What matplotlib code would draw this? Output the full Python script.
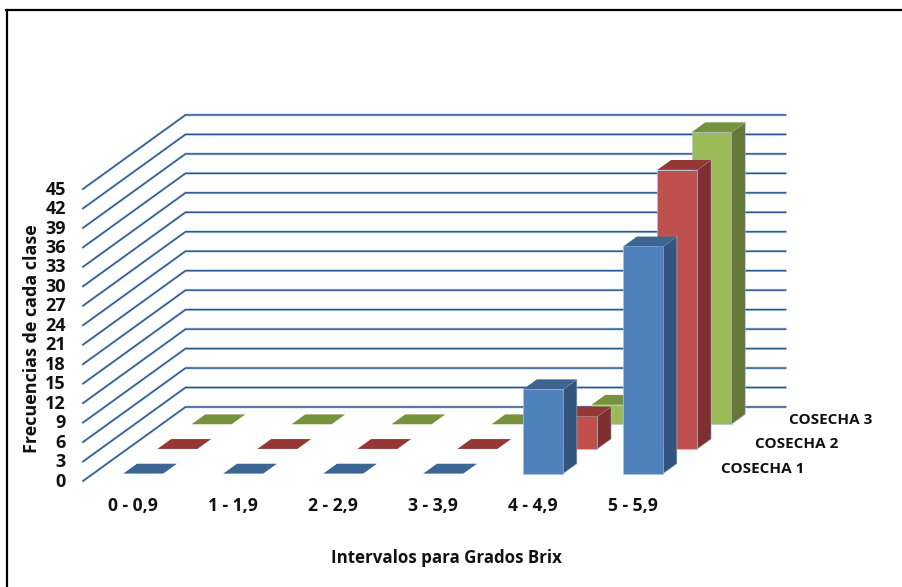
import matplotlib
matplotlib.use('Agg')
import matplotlib.pyplot as plt
from matplotlib.patches import Polygon

categories = ['0 - 0,9', '1 - 1,9', '2 - 2,9', '3 - 3,9', '4 - 4,9', '5 - 5,9']
series_names = ['COSECHA 1', 'COSECHA 2', 'COSECHA 3']
cosecha_1 = [0, 0, 0, 0, 13, 35]
cosecha_2 = [0, 0, 0, 0, 5, 43]
cosecha_3 = [0, 0, 0, 0, 3, 45]
y_ticks = list(range(0, 48, 3))

W, H = 902, 587
PX_CAT = 100.0  # pixels per category
PX_VAL = 6.49  # pixels per count
X0, Y0 = 83.0, 481.0  # front corner of the floor
DEPTH_X = 34.17 / PX_CAT  # shift per series slot, in data units
DEPTH_Y = 24.67 / PX_VAL
BAR_W = 0.4
BAR_D = 0.4
FONT = 'Open Sans'

colors = [('#4F81BD', '#3D6594', '#33547C'),
          ('#C0504D', '#953735', '#7F302E'),
          ('#9BBB59', '#76923C', '#66783A')]


def proj(x, d, v):
    return x + d * DEPTH_X, v + d * DEPTH_Y


def draw_bar(ax, cat, slot, value, cols):
    x0 = cat + (1 - BAR_W) / 2
    x1 = x0 + BAR_W
    d0 = slot + (1 - BAR_D) / 2
    d1 = d0 + BAR_D
    front, top, side = cols
    if value > 0:
        ax.add_patch(Polygon([proj(x0, d0, 0), proj(x1, d0, 0), proj(x1, d0, value), proj(x0, d0, value)],
                             fc=front, ec='#A9C4E4', lw=0.5, zorder=3))
        ax.add_patch(Polygon([proj(x1, d0, 0), proj(x1, d1, 0), proj(x1, d1, value), proj(x1, d0, value)],
                             fc=side, ec='#A9C4E4', lw=0.4, zorder=3))
    ax.add_patch(Polygon([proj(x0, d0, value), proj(x1, d0, value), proj(x1, d1, value), proj(x0, d1, value)],
                         fc=top, ec='none', zorder=3))


fig = plt.figure(figsize=(W / 100, H / 100), dpi=100)
ax = fig.add_axes([0, 0, 1, 1])
ax.set_xlim(-X0 / PX_CAT, (W - X0) / PX_CAT)
ax.set_ylim((Y0 - H) / PX_VAL, Y0 / PX_VAL)
ax.axis('off')

# walls
n_cat = len(categories)
n_ser = len(series_names)
for t in y_ticks:
    xs = [proj(0, 0, t)[0], proj(0, n_ser, t)[0], proj(n_cat, n_ser, t)[0]]
    ys = [proj(0, 0, t)[1], proj(0, n_ser, t)[1], proj(n_cat, n_ser, t)[1]]
    ax.plot(xs, ys, color='#C5D3E6', lw=2.0, solid_joinstyle='miter', zorder=1)
    ax.plot(xs, ys, color='#24548C', lw=1.0, solid_joinstyle='miter', zorder=2)
    ax.text(-0.17, t - 0.1, str(t), ha='right', va='center', family=FONT,
            fontsize=13, fontweight='bold', color='#111111')

# bars back to front
all_series = [cosecha_1, cosecha_2, cosecha_3]
for slot in range(n_ser - 1, -1, -1):
    for cat, value in enumerate(all_series[slot]):
        draw_bar(ax, cat, slot, value, colors[slot])
    x, y = proj(6.38, slot, 1.85)
    ax.text(x, y, series_names[slot], ha='left', va='center', family=FONT,
            fontsize=11, fontweight='bold', color='#111111')

for i, name in enumerate(categories):
    ax.text(i + 0.5, -3.85, name, ha='center', va='center', family=FONT,
            fontsize=12.6, fontweight='bold', color='#111111')

ax.text(3.63, -11.8, 'Intervalos para Grados Brix', ha='center', va='center', family=FONT,
        fontsize=12.2, fontweight='bold', color='#111111')
ax.text(-0.51, 22, 'Frecuencias de cada clase', ha='center', va='center', rotation=90,
        family=FONT, fontsize=13, fontweight='bold', color='#111111')

# picture frame
fig.add_artist(plt.Line2D([7 / W, 7 / W], [0, 1 - 10 / H], color='black', lw=1.6))
fig.add_artist(plt.Line2D([6 / W, 1], [1 - 10 / H, 1 - 10 / H], color='black', lw=1.6))

fig.savefig('out.png', dpi=100)
